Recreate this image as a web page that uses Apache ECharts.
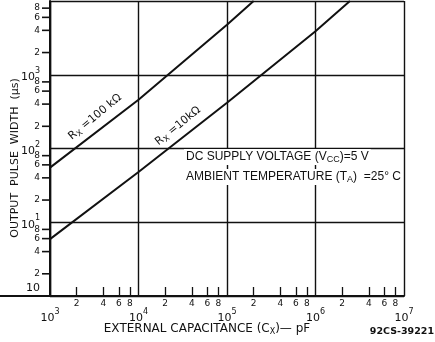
<!DOCTYPE html>
<html><head><meta charset="utf-8">
<script src="https://cdn.jsdelivr.net/npm/echarts@6/dist/echarts.min.js"></script>
<style>html,body{margin:0;padding:0;background:#fff}#c{width:435px;height:342px}</style>
</head><body><div id="c"></div>
<script>
// ---- data ----
const capRx100k = [1e3, 1e4, 1e5, 2e5];          // pF
const widthRx100k = [55, 457, 4750, 1e4];        // µs
const capRx10k = [1e3, 1e4, 1e5, 1e6, 2.45e6];   // pF
const widthRx10k = [5.9, 48, 417, 3900, 1e4];    // µs
const xDecades = [3, 4, 5, 6];                   // 10^3 .. 10^6 (minor ticks inside each)
const yDecades = [0, 1, 2, 3];
const minorMults = [2, 4, 6, 8];                 // minor tick labels

const minorPos = (decs) => decs.flatMap(d => minorMults.map(m => d + Math.log10(m)));
const minorLabel = v => String(Math.round(Math.pow(10, v - Math.floor(v + 1e-9))));
const black = '#111';
const axisFont = 'DejaVu Sans';

const chart = echarts.init(document.getElementById('c'), null, {renderer: 'canvas'});
chart.setOption({
  animation: false,
  backgroundColor: '#fff',
  grid: {left: 50, right: 31, top: 1, bottom: 46, containLabel: false},
  xAxis: [
    {type: 'log', logBase: 10, min: 1e3, max: 1e7, position: 'bottom',
     axisLine: {show: true, lineStyle: {color: black, width: 2}},
     axisTick: {show: false},
     splitLine: {show: true, lineStyle: {color: black, width: 1.4}},
     axisLabel: {margin: 12, color: black, fontFamily: axisFont,
       formatter: v => '{b|10}{s|' + Math.round(Math.log10(v)) + '}',
       rich: {b: {fontSize: 11, fontFamily: axisFont, color: black, verticalAlign: 'bottom', lineHeight: 16},
              s: {fontSize: 8, fontFamily: axisFont, color: black, verticalAlign: 'top', lineHeight: 16}}}},
    {type: 'value', min: 3, max: 7, position: 'bottom',
     axisLine: {show: false}, splitLine: {show: false},
     axisTick: {show: true, inside: true, length: 9, customValues: minorPos(xDecades), lineStyle: {color: black, width: 1.3}},
     axisLabel: {show: true, margin: 3, fontSize: 9, color: black, fontFamily: axisFont, customValues: minorPos(xDecades), formatter: minorLabel}}
  ],
  yAxis: [
    {type: 'log', logBase: 10, min: 1, max: 1e4, position: 'left',
     axisLine: {show: true, lineStyle: {color: black, width: 2}},
     axisTick: {show: false},
     splitLine: {show: true, lineStyle: {color: black, width: 1.4}},
     axisLabel: {margin: 10, color: black, fontFamily: axisFont,
       formatter: v => { const e = Math.round(Math.log10(v)); if (e === 0) return '{z|10}'; if (e >= 4) return ''; return '{b|10}{s|' + e + '}'; },
       rich: {b: {fontSize: 11, fontFamily: axisFont, color: black, verticalAlign: 'bottom', lineHeight: 16},
              s: {fontSize: 8, fontFamily: axisFont, color: black, verticalAlign: 'top', lineHeight: 16},
              z: {fontSize: 11, fontFamily: axisFont, color: black, padding: [0, 0, 16, 0]}}}},
    {type: 'value', min: 0, max: 4, position: 'left',
     axisLine: {show: false}, splitLine: {show: false},
     axisTick: {show: false},
     axisLabel: {show: true, margin: 10, fontSize: 9, color: black, fontFamily: axisFont, customValues: minorPos(yDecades), formatter: minorLabel}}
  ],
  series: [
    {type: 'line', xAxisIndex: 0, yAxisIndex: 0, symbol: 'none', clip: true,
     lineStyle: {color: black, width: 2},
     data: capRx100k.map((c, i) => [c, widthRx100k[i]])},
    {type: 'line', xAxisIndex: 0, yAxisIndex: 0, symbol: 'none', clip: true,
     lineStyle: {color: black, width: 2},
     data: capRx10k.map((c, i) => [c, widthRx10k[i]])}
  ]
});

// minor y ticks (outside, left) placed through the axis scales
const x0 = chart.convertToPixel({xAxisIndex: 0}, 1e3);
const yb = chart.convertToPixel({yAxisIndex: 0}, 1);
const yTicks = minorPos(yDecades).map(v => {
  const y = chart.convertToPixel({yAxisIndex: 1}, v);
  return {type: 'rect', z: 100, shape: {x: x0 - 8, y: y - 0.8, width: 8, height: 1.6}, style: {fill: black}};
});
const texts = [
    {type: 'line', z: 50, shape: {x1: 0, y1: yb, x2: x0, y2: yb}, style: {stroke: black, lineWidth: 2}},
    {type: 'text', z: 50, x: 95, y: 117, rotation: 0.69,
     style: {text: 'R{s|X} =100 kΩ', fill: black, font: '11px "DejaVu Sans"', align: 'center', verticalAlign: 'middle',
       rich: {s: {fontSize: 8, fontFamily: axisFont, fill: black, verticalAlign: 'bottom', padding: [6, 0, 0, 0]}}}},
    {type: 'text', z: 50, x: 178, y: 126, rotation: 0.68,
     style: {text: 'R{s|X} =10kΩ', fill: black, font: '11px "DejaVu Sans"', align: 'center', verticalAlign: 'middle',
       rich: {s: {fontSize: 8, fontFamily: axisFont, fill: black, verticalAlign: 'bottom', padding: [6, 0, 0, 0]}}}},
    {type: 'text', z: 50, x: 184, y: 157,
     style: {text: 'DC SUPPLY VOLTAGE (V{s|CC})=5 V', fill: black, font: '12px "Liberation Sans"', align: 'left', verticalAlign: 'middle',
       backgroundColor: '#fff', padding: [1, 2],
       rich: {s: {fontSize: 9, fontFamily: 'Liberation Sans', fill: black, padding: [5, 0, 0, 0]}}}},
    {type: 'text', z: 50, x: 184, y: 177,
     style: {text: 'AMBIENT TEMPERATURE (T{s|A})  =25° C', fill: black, font: '12px "Liberation Sans"', align: 'left', verticalAlign: 'middle',
       backgroundColor: '#fff', padding: [1, 2],
       rich: {s: {fontSize: 9, fontFamily: 'Liberation Sans', fill: black, padding: [5, 0, 0, 0]}}}},
    {type: 'text', z: 50, x: 15, y: 158, rotation: Math.PI / 2,
     style: {text: 'OUTPUT  PULSE  WIDTH  (µs)', fill: black, font: '11px "DejaVu Sans"', align: 'center', verticalAlign: 'middle'}},
    {type: 'text', z: 50, x: 207, y: 329,
     style: {text: 'EXTERNAL CAPACITANCE (C{s|X})— pF', fill: black, font: '12px "DejaVu Sans"', align: 'center', verticalAlign: 'middle',
       rich: {s: {fontSize: 8, fontFamily: axisFont, fill: black, padding: [5, 0, 0, 0]}}}},
    {type: 'text', z: 50, x: 434, y: 332,
     style: {text: '92CS-39221', fill: black, font: 'bold 9.5px "DejaVu Sans"', align: 'right', verticalAlign: 'middle'}}
];
chart.setOption({graphic: {elements: texts.concat(yTicks)}});
</script></body></html>
